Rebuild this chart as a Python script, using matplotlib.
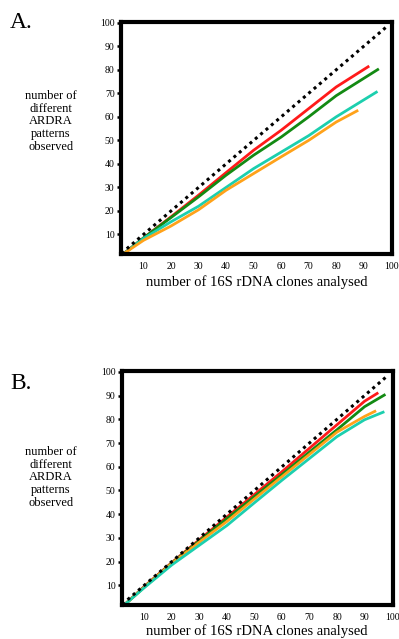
# ARDRA rarefaction-style curves, panels A and B

import matplotlib.pyplot as plt

plt.rcParams['font.family'] = ['Liberation Serif', 'DejaVu Serif']

# Panel A series (clones analysed -> patterns observed)
a_red_x = [3, 10, 20, 30, 40, 50, 60, 70, 80, 92]
a_red_y = [2, 8.5, 17.5, 26.7, 36.3, 45.8, 54.3, 63.5, 72.7, 81.6]
a_green_x = [3, 10, 20, 30, 40, 50, 60, 70, 80, 95.5]
a_green_y = [2, 8.5, 17.2, 26, 35.2, 43.7, 51.4, 60, 69, 80.4]
a_cyan_x = [3, 10, 20, 30, 40, 50, 60, 70, 80, 95]
a_cyan_y = [2, 8.3, 15.4, 22, 30, 38, 45, 52, 60, 70.8]
a_orange_x = [3, 10, 20, 30, 40, 50, 60, 70, 80, 88]
a_orange_y = [2, 7.5, 13.6, 20.5, 28.8, 35.9, 43, 50, 57.8, 62.8]

# Panel B series
b_red_x = [3, 10, 20, 30, 40, 50, 60, 70, 80, 90, 95]
b_red_y = [2, 9.5, 19.6, 29.2, 38.8, 48.3, 57.9, 67.8, 77.7, 87.6, 91.2]
b_green_x = [3, 10, 20, 30, 40, 50, 60, 70, 80, 90, 97.6]
b_green_y = [2, 9.3, 19.4, 28.8, 38.1, 47.4, 56.7, 66.2, 75.6, 85.3, 90.5]
b_orange_x = [3, 10, 20, 30, 40, 50, 60, 70, 80, 90, 94.2]
b_orange_y = [2, 9.2, 19.2, 28.2, 36.9, 46.4, 55.8, 65.2, 74.6, 81.2, 83.6]
b_cyan_x = [3, 10, 20, 30, 40, 50, 60, 70, 80, 90, 97.2]
b_cyan_y = [2, 9, 18.6, 26.9, 35.2, 44.8, 54.3, 63.5, 72.7, 79.8, 83.2]

# Expected 1:1 line
diag_x = [2, 98.3]
diag_y = [2, 98.3]

ticks = [10, 20, 30, 40, 50, 60, 70, 80, 90, 100]

colours = {'red': '#ff1a1a', 'green': '#138a13', 'cyan': '#1ccfae', 'orange': '#ffa21a'}

fig = plt.figure(figsize=(3.99, 6.39), dpi=100)


# Draws one panel with its curves and labels
def plot_panel(rect, series, letter, letter_y, ylab_y, diag_end, lpad):
    ax = fig.add_axes(rect)
    ax.plot([diag_x[0], diag_end], [diag_y[0], diag_end], color='black',
            linestyle=(0, (1, 1.3)), linewidth=2.2, zorder=3)
    for xs, ys, c in series:
        ax.plot(xs, ys, color=colours[c], linewidth=2, solid_capstyle='butt')

    ax.set_xlim(1.8, 100.2)
    ax.set_ylim(1.7, 100.3)
    ax.set_xticks(ticks)
    ax.set_yticks(ticks)
    for s in ax.spines.values():
        s.set_linewidth(3)
    ax.tick_params(axis='y', length=3, width=1.8, labelsize=7, pad=1.5)
    ax.tick_params(axis='x', length=0, labelsize=7, pad=6)
    ax.set_xlabel('number of 16S rDNA clones analysed', fontsize=10.5, labelpad=lpad)

    fig.text(0.025, letter_y, letter, fontsize=17, ha='left', va='center')
    fig.text(0.128, ylab_y, 'number of\ndifferent\nARDRA\npatterns\nobserved',
             fontsize=9, ha='center', va='center', linespacing=1.08)
    return ax


plot_panel([0.303, 0.6025, 0.679, 0.363],
           [(a_red_x, a_red_y, 'red'), (a_green_x, a_green_y, 'green'),
            (a_cyan_x, a_cyan_y, 'cyan'), (a_orange_x, a_orange_y, 'orange')],
           'A.', 0.965, 0.81, 98.2, 3)

plot_panel([0.305, 0.0532, 0.679, 0.366],
           [(b_red_x, b_red_y, 'red'), (b_green_x, b_green_y, 'green'),
            (b_orange_x, b_orange_y, 'orange'), (b_cyan_x, b_cyan_y, 'cyan')],
           'B.', 0.40, 0.253, 98.5, 1.5)

fig.savefig('out.png', dpi=100)
